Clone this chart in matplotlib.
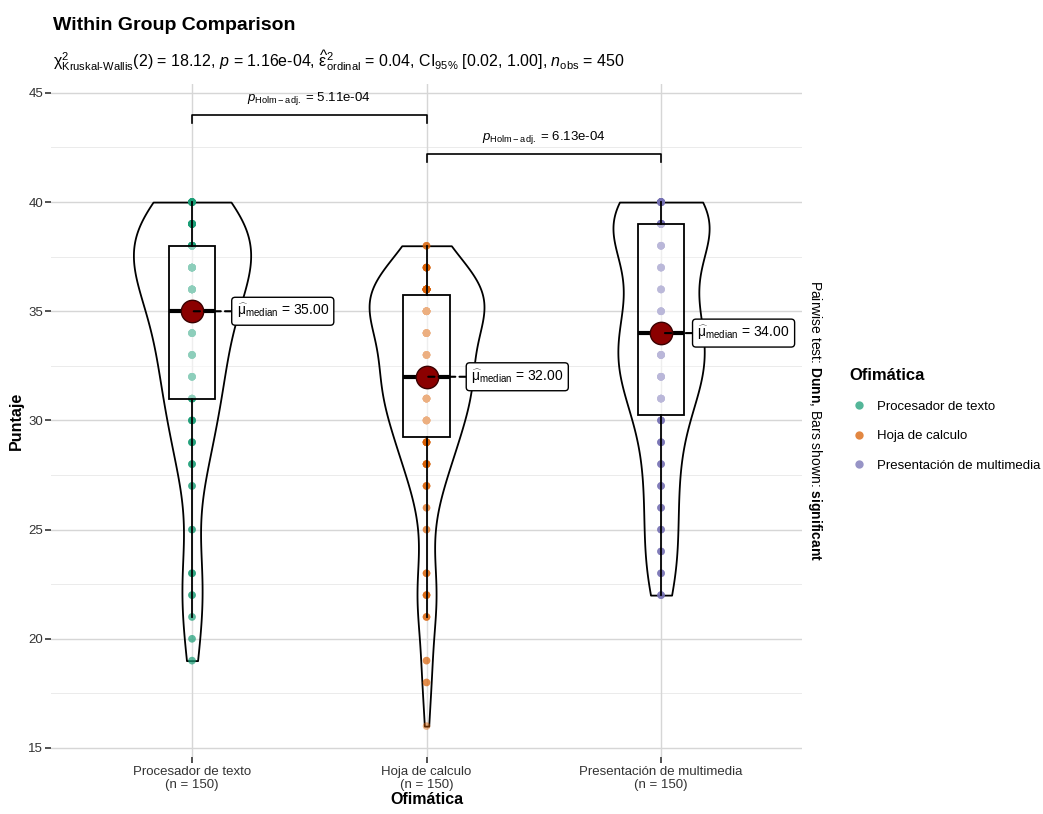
import numpy as np
import matplotlib
matplotlib.use("Agg")
import matplotlib.pyplot as plt
from matplotlib.lines import Line2D

plt.rcParams['font.family'] = 'Liberation Sans'
plt.rcParams['mathtext.fontset'] = 'custom'
plt.rcParams['mathtext.rm'] = 'Liberation Sans'
plt.rcParams['mathtext.it'] = 'Liberation Sans:italic'
plt.rcParams['mathtext.bf'] = 'Liberation Sans:bold'

groups = ["Procesador de texto", "Hoja de calculo", "Presentación de multimedia"]
colors = ["#1B9E77", "#D95F02", "#7570B3"]

# puntaje values seen in each group and how many times each appears (n = 150)
texto_vals = [19, 20, 21, 22, 23, 25, 27, 28, 29, 30, 31, 32, 33, 34, 35, 36, 37, 38, 39, 40]
texto_counts = [2, 2, 2, 3, 4, 3, 3, 4, 5, 6, 7, 8, 8, 9, 10, 13, 15, 17, 15, 14]
hoja_vals = [16, 18, 19, 21, 22, 23, 25, 26, 27, 28, 29, 30, 31, 32, 33, 34, 35, 36, 37, 38]
hoja_counts = [1, 2, 2, 3, 4, 3, 2, 2, 4, 7, 8, 10, 11, 17, 8, 11, 17, 26, 9, 3]
present_vals = [22, 23, 24, 25, 26, 27, 28, 29, 30, 31, 32, 33, 34, 35, 36, 37, 38, 39, 40]
present_counts = [4, 4, 4, 4, 4, 4, 4, 5, 5, 9, 11, 12, 12, 8, 6, 7, 8, 20, 19]

# pairwise Dunn results shown as bars
pairs = [(1, 2), (2, 3)]
pair_p = ["5.11e-04", "6.13e-04"]
pair_y = [44.0, 42.2]

subtitle = (r"$\mathrm{\chi}^2_{\mathrm{Kruskal\text{-}Wallis}}(2)$ = 18.12, $p$ = 1.16e-04, "
            r"$\widehat{\mathrm{\varepsilon}}^2_{\mathrm{ordinal}}$ = 0.04, CI$_{95\%}$ [0.02, 1.00], "
            r"$n_{\mathrm{obs}}$ = 450")

data = [np.repeat(texto_vals, texto_counts),
        np.repeat(hoja_vals, hoja_counts),
        np.repeat(present_vals, present_counts)]
pos = [1, 2, 3]


def nrd0(kde):
    # R's default bandwidth, expressed as a factor of the sd
    d = kde.dataset.ravel()
    sd = d.std(ddof=1)
    q75, q25 = np.percentile(d, [75, 25])
    return 0.9 * min(sd, (q75 - q25) / 1.34) * len(d) ** -0.2 / sd


fig = plt.figure(figsize=(10.43, 8.14), dpi=100)
ax = fig.add_axes([0.0492, 0.0704, 0.7195, 0.8262])

# grid
for y in np.arange(15, 46, 5):
    ax.axhline(y, color="#D6D6D6", lw=1.0, zorder=0)
for y in np.arange(17.5, 45, 5):
    ax.axhline(y, color="#EBEBEB", lw=0.7, zorder=0)
for x in pos:
    ax.axvline(x, color="#D6D6D6", lw=1.0, zorder=0)

# violins
vp = ax.violinplot(data, positions=pos, widths=[0.50, 0.49, 0.41],
                   showextrema=False, bw_method=nrd0, points=300)
for body in vp['bodies']:
    body.set_facecolor((1, 1, 1, 0.2))
    body.set_edgecolor("black")
    body.set_linewidth(1.3)
    body.set_alpha(None)
    body.set_zorder(1)

# points
for x, d, c in zip(pos, data, colors):
    ax.scatter(np.full(len(d), x), d, s=30, color=c, alpha=0.45,
               edgecolors="none", zorder=2)

# boxes
for x, d in zip(pos, data):
    ax.boxplot([d], positions=[x], widths=0.2, patch_artist=True,
               showfliers=False, showcaps=False,
               boxprops=dict(facecolor=(1, 1, 1, 0.5), edgecolor="black", lw=1.3),
               whiskerprops=dict(color="black", lw=1.3),
               medianprops=dict(color="black", lw=3),
               zorder=3, manage_ticks=False)

# medians with labels
label_dx = [0.19, 0.19, 0.155]
for x, d, dx in zip(pos, data, label_dx):
    med = np.median(d)
    ax.scatter([x], [med], s=260, color="#8B0000", edgecolors="#3a0000",
               linewidths=1.0, zorder=5)
    ax.annotate(r"$\widehat{\mathrm{\mu}}_{\mathrm{median}}$ = %.2f" % med,
                xy=(x, med), xytext=(x + dx, med), ha="left", va="center",
                fontsize=10, zorder=6,
                bbox=dict(boxstyle="round,pad=0.35,rounding_size=0.25",
                          fc="white", ec="black", lw=1.0),
                arrowprops=dict(arrowstyle="-", ls=(0, (3, 2)), lw=1.5,
                                color="black", shrinkA=0, shrinkB=0))

# significance bars
for (a, b), p, y in zip(pairs, pair_p, pair_y):
    ax.plot([a, a, b, b], [y - 0.37, y, y, y - 0.37], color="black", lw=1.2,
            zorder=4)
    ax.text((a + b) / 2, y + 0.35, r"$p_{\mathrm{Holm-adj.}}$ = " + p,
            ha="center", va="bottom", fontsize=9.5)

ax.set_xlim(0.4, 3.6)
ax.set_ylim(14.6, 45.4)
ax.set_yticks(np.arange(15, 46, 5))
ax.set_xticks(pos)
ax.set_xticklabels([g + "\n(n = 150)" for g in groups], fontsize=9.5,
                   color="#333333", linespacing=1.05)
ax.tick_params(axis="y", labelsize=9.5, labelcolor="#333333", length=4,
               width=1.2, color="#333333", pad=2)
ax.tick_params(axis="x", length=4, width=1.2, color="#333333", pad=3)
for s in ax.spines.values():
    s.set_visible(False)
ax.set_xlabel("Ofimática", fontsize=11.5, fontweight="bold", labelpad=1)
ax.set_ylabel("Puntaje", fontsize=11.5, fontweight="bold", labelpad=3)

fig.text(0.051, 0.969, "Within Group Comparison", fontsize=14,
         fontweight="bold", va="center", ha="left")
fig.text(0.051, 0.926, subtitle, fontsize=11.5, va="center", ha="left")

fig.text(0.781, 0.484, r"Pairwise test: $\mathbf{Dunn}$, Bars shown: $\mathbf{significant}$",
         rotation=270, fontsize=10, ha="center", va="center")

handles = [Line2D([], [], marker="o", ls="none", color=c, alpha=0.75,
                  markersize=6, markeredgewidth=0) for c in colors]
leg = fig.legend(handles, groups, title="Ofimática", loc="center left",
                 bbox_to_anchor=(0.803, 0.484), frameon=False, fontsize=9.5,
                 title_fontsize=12, labelspacing=1.3, handletextpad=0.6,
                 handlelength=1.5)
leg.get_title().set_fontweight("bold")
leg._legend_box.align = "left"

fig.savefig("out.png", dpi=100)
